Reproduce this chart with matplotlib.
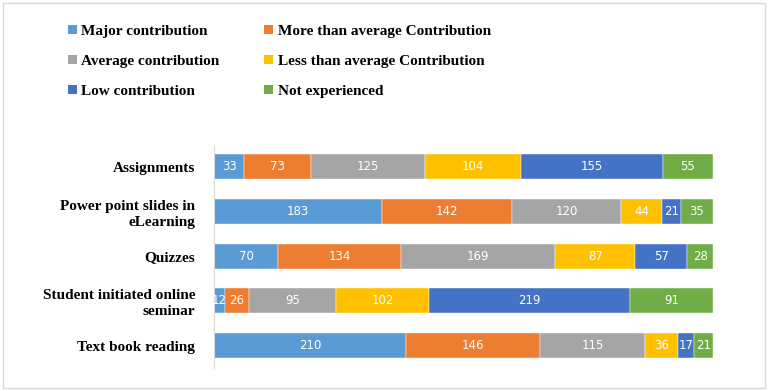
import numpy as np
import matplotlib.pyplot as plt
from matplotlib.patches import Rectangle, Patch

# data
categories = ['Assignments', 'Power point slides in\neLearning', 'Quizzes',
              'Student initiated online\nseminar', 'Text book reading']
series_names = ['Major contribution', 'More than average Contribution',
                'Average contribution', 'Less than average Contribution',
                'Low contribution', 'Not experienced']
major = [33, 183, 70, 12, 210]
more_avg = [73, 142, 134, 26, 146]
average = [125, 120, 169, 95, 115]
less_avg = [104, 44, 87, 102, 36]
low = [155, 21, 57, 219, 17]
not_exp = [55, 35, 28, 91, 21]

colors = ['#5B9BD5', '#ED7D31', '#A5A5A5', '#FFC000', '#4472C4', '#70AD47']
series = [major, more_avg, average, less_avg, low, not_exp]

fig = plt.figure(figsize=(7.68, 3.91), dpi=100)
ax = fig.add_axes([0.2786, 0.059, 0.6497, 0.571])

y = np.arange(len(categories))
left = np.zeros(len(categories))
for vals, c, name in zip(series, colors, series_names):
    vals = np.array(vals, dtype=float)
    bars = ax.barh(y, vals, left=left, height=0.56, color=c, label=name,
                   edgecolor='white', linewidth=0.3)
    ax.bar_label(bars, labels=[str(int(v)) for v in vals], label_type='center',
                 color='white', fontsize=8.5, family='DejaVu Sans')
    left += vals

ax.set_xlim(0, left.max())
ax.set_ylim(4.5, -0.5)
ax.set_yticks(y)
ax.set_yticklabels(categories, family='Liberation Serif', fontweight='bold',
                   fontsize=11, linespacing=1.25)
ax.tick_params(axis='y', length=0, pad=13.5)
ax.set_xticks([])
for s in ['top', 'right', 'bottom']:
    ax.spines[s].set_visible(False)
ax.spines['left'].set_color('#d9d9d9')

# legend, row-major order like the reference
order = [0, 2, 4, 1, 3, 5]
handles = [Patch(facecolor=colors[i]) for i in order]
labels = [series_names[i] for i in order]
fig.legend(handles, labels, ncol=2, loc='upper left', bbox_to_anchor=(0.07, 0.972),
           frameon=False, prop={'family': 'Liberation Serif', 'weight': 'bold', 'size': 11},
           handlelength=0.6, handleheight=0.6, handletextpad=0.3,
           columnspacing=2.9, labelspacing=1.1)

# light frame round the chart
fig.patches.append(Rectangle((0.004, 0.008), 0.992, 0.984, transform=fig.transFigure,
                             fill=False, edgecolor='#d9d9d9', linewidth=1))

fig.savefig('out.png', dpi=100)
